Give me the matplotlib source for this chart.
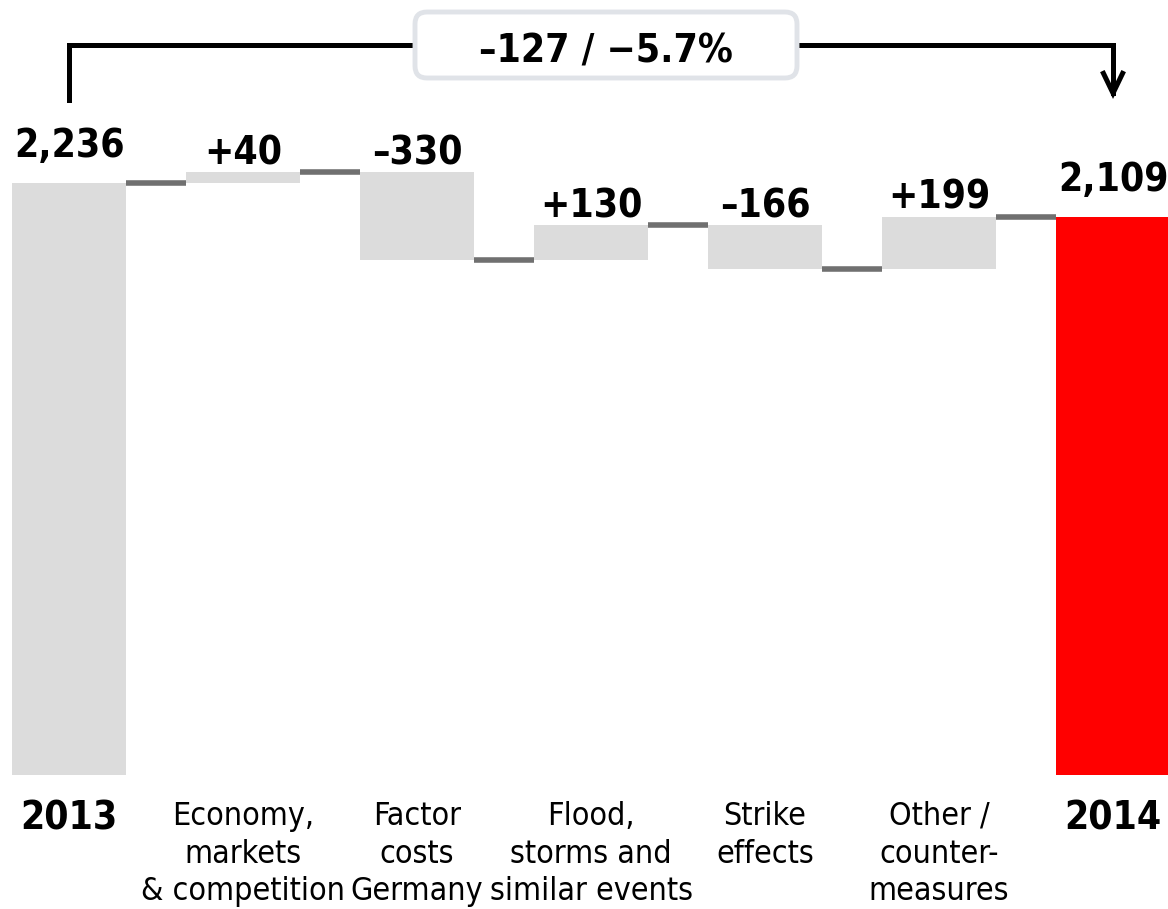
import matplotlib
matplotlib.use('Agg')
from matplotlib import pyplot as plt
from matplotlib.patches import FancyBboxPatch
from matplotlib.transforms import IdentityTransform

plt.rcParams['font.family'] = ['DejaVu Sans']
plt.rcParams['font.stretch'] = 'condensed'

# datos del puente 2013 -> 2014
etiquetas = ['2013', 'Economy,\nmarkets\n& competition', 'Factor\ncosts\nGermany',
             'Flood,\nstorms and\nsimilar events', 'Strike\neffects',
             'Other /\ncounter-\nmeasures', '2014']
inicio = 2236
cambios = [40, -330, 130, -166, 199]
final = 2109
textos = ['2,236', '+40', '\u2013330', '+130', '\u2013166', '+199', '2,109']
resumen = '\u2013127 / \u22125.7%'

GRIS = '#dcdcdc'
ROJO = '#ff0000'
LINEA = '#707070'
ancho = 0.655

fig = plt.figure(figsize=(11.68, 9.09), dpi=100)
ax = fig.add_axes([0, 0, 1, 1])
ax.set_xlim(-0.397, 6.316)
ax.set_ylim(-506, 2927)
ax.axis('off')

# barras
nivel = inicio
ax.bar(0, inicio, width=ancho, color=GRIS)
niveles = [inicio]
tops = [inicio]
for i, c in enumerate(cambios):
    abajo = min(nivel, nivel + c)
    ax.bar(i + 1, abs(c), bottom=abajo, width=ancho, color=GRIS)
    tops.append(max(nivel, nivel + c))
    nivel += c
    niveles.append(nivel)
ax.bar(6, final, width=ancho, color=ROJO)
niveles.append(final)
tops.append(final)

# conectores entre barras
for i in range(6):
    ax.plot([i + ancho / 2, i + 1 - ancho / 2], [niveles[i], niveles[i]],
            color=LINEA, lw=4, solid_capstyle='butt')

# etiquetas de valores
for i, t in enumerate(textos):
    off = 13 if i in (0, 6) else 0
    ax.annotate(t, (i, tops[i]), xytext=(0, off), textcoords='offset points',
                ha='center', va='bottom', fontsize=28, fontweight='bold')

# etiquetas de categorias
for i, e in enumerate(etiquetas):
    if i in (0, 6):
        ax.text(i, -165, e, ha='center', va='center', fontsize=28, fontweight='bold')
    else:
        ax.text(i, -98, e, ha='center', va='top', fontsize=23, linespacing=1.28)

# corchete superior
y_top = 2757
ax.plot([0, 0, 1.99], [2549, y_top, y_top], color='black', lw=3.6,
        solid_joinstyle='miter')
ax.plot([4.18, 6, 6], [y_top, y_top, 2575], color='black', lw=3.6,
        solid_joinstyle='miter')
ax.plot([6 - 0.055, 6, 6 + 0.055], [2650, 2575, 2650], color='black', lw=3.6,
        solid_joinstyle='miter')

# caja del resumen (en pixeles)
caja = FancyBboxPatch((415, 909 - 78), 797 - 415, 66,
                      boxstyle='round,pad=0,rounding_size=12',
                      transform=IdentityTransform(), facecolor='white',
                      edgecolor='#e0e3e8', lw=3.5)
fig.patches.append(caja)
fig.text(606 / 1168, 1 - 51 / 909, resumen, ha='center', va='center',
         fontsize=28, fontweight='bold')

plt.savefig('out.png', dpi=100)
